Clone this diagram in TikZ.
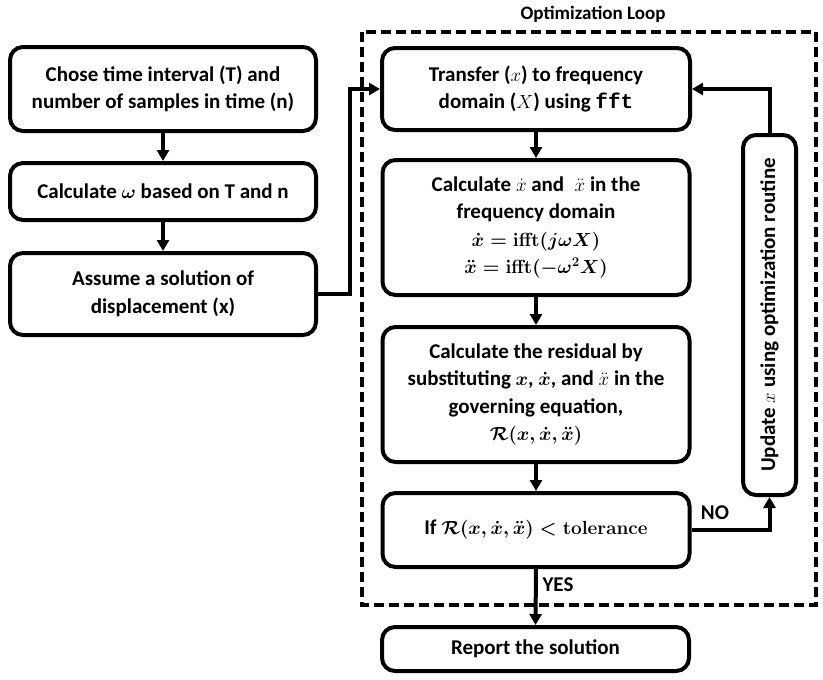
\RequirePackage{fix-cm}
\documentclass[tikz,border=0pt]{standalone}
\usepackage{amsmath}
\usepackage[no-math]{fontspec}
\setmainfont{Carlito}
\setmonofont{Liberation Mono}
\usetikzlibrary{arrows.meta}
\newcommand{\eqsize}{\fontsize{19}{27.5}\selectfont}
\begin{document}
\begin{tikzpicture}[x=1pt,y=-1pt,
  box/.style={draw, line width=4pt, rounded corners=13pt, align=center, inner sep=0pt,
    font=\fontsize{21}{27.5}\selectfont\bfseries},
  conn/.style={line width=4pt, -{Triangle[length=11pt,width=12pt]}},
  lab/.style={font=\fontsize{21}{24}\selectfont\bfseries, inner sep=0pt},
  loopframe/.style={draw, line width=4pt, dash pattern=on 10pt off 5pt}]
\useasboundingbox (0,0) rectangle (823,680);
% dashed optimisation loop
\draw[loopframe] (362,32) rectangle (816,605);
\node[lab, font=\fontsize{19}{22}\selectfont\bfseries] (title) at (593,14) {Optimization Loop};
% left column
\node[box, minimum width=306pt, minimum height=84pt] (A) at (163,89)
  {Chose time interval (T) and\\number of samples in time (n)};
\node[box, minimum width=306pt, minimum height=57pt] (B) at (163,191.5)
  {Calculate {\eqsize$\boldsymbol{\omega}$} based on T and n};
\node[box, minimum width=306pt, minimum height=82pt] (C) at (163,294)
  {Assume a solution of\\displacement (x)};
% loop column
\node[box, minimum width=308pt, minimum height=82pt] (D) at (536,89)
  {Transfer ({\eqsize$x$}) to frequency\\domain ({\eqsize$X$}) using \texttt{fft}};
\node[box, minimum width=307pt, minimum height=135pt] (E) at (536,227.5)
  {Calculate {\eqsize$\dot{x}$} and\enspace{\eqsize$\ddot{x}$} in the\\frequency domain\\
   {\eqsize\boldmath$\dot{x} = \mathbf{ifft}(j\omega X)$}\\
   {\eqsize\boldmath$\ddot{x} = \mathbf{ifft}(-\omega^2 X)$}};
\node[box, minimum width=307pt, minimum height=135pt] (F) at (536,394.5)
  {Calculate the residual by\\substituting {\eqsize\boldmath$x$}, {\eqsize\boldmath$\dot{x}$}, and {\eqsize$\ddot{x}$} in the\\governing equation,\\
   {\eqsize\boldmath$\mathcal{R}(x,\dot{x},\ddot{x})$}};
\node[box, minimum width=307pt, minimum height=74pt] (G) at (536,530)
  {If {\eqsize\boldmath$\mathcal{R}(x,\dot{x},\ddot{x}) < \mathbf{tolerance}$}};
\node[box, minimum width=307pt, minimum height=44pt] (H) at (535.5,649)
  {Report the solution};
\node[box, minimum width=53pt, minimum height=360pt,
  label={[rotate=90, font=\fontsize{21}{24}\selectfont\bfseries]center:Update {\eqsize$x$} using optimization routine}] (U) at (769.5,315) {};
% connectors
\draw[conn] (A.south) -- (B.north);
\draw[conn] (B.south) -- (C.north);
\draw[conn] (C.east) -- ++(32,0) |- (D.west);
\draw[conn] (D.south) -- (E.north);
\draw[conn] (E.south) -- (F.north);
\draw[conn] (F.south) -- (G.north);
\draw[conn] (G.south) -- (H.north);
\draw[conn] (G.east) -| (U.south);
\draw[conn] (U.north) |- (D.east);
\node[lab] (no) at (715,513) {NO};
\node[lab] (yes) at (558,585) {YES};
\end{tikzpicture}
\end{document}
